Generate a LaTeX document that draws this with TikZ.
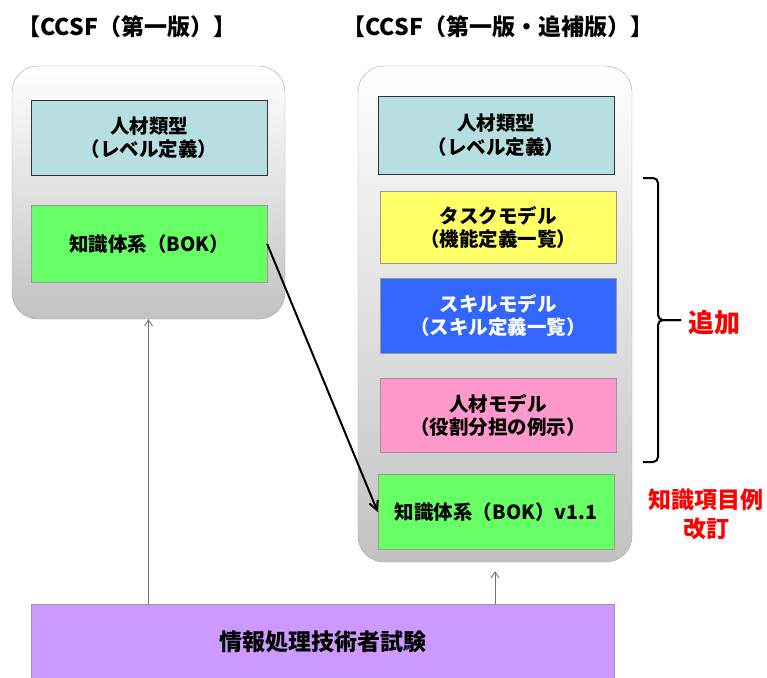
\documentclass[tikz,border=0pt]{standalone}
\usepackage{fontspec}
\setmainfont{Noto Sans CJK JP}
\usepackage{xcolor}
\usetikzlibrary{positioning,arrows.meta}

\definecolor{typecyan}{RGB}{183,222,224}
\definecolor{bokgreen}{RGB}{102,255,102}
\definecolor{taskyellow}{RGB}{255,255,102}
\definecolor{skillblue}{RGB}{51,102,255}
\definecolor{humanpink}{RGB}{255,153,204}
\definecolor{exampurple}{RGB}{204,153,255}

\begin{document}
\begin{tikzpicture}[x=1pt, y=-1pt, node distance=17pt, auto]

    % Define styles
    \tikzstyle{panel} = [rectangle, draw=gray!70, rounded corners=26pt, top color=white, bottom color=black!24, minimum width=273pt]
    \tikzstyle{layer} = [rectangle, draw=gray!80, minimum width=236pt, inner sep=0pt, align=center, font=\bfseries\fontsize{19.5}{23.5}\selectfont]
    \tikzstyle{title} = [anchor=west, font=\bfseries\fontsize{23}{27}\selectfont]
    \tikzstyle{note} = [text=red, align=center, font=\bfseries\fontsize{23}{29}\selectfont]
    \tikzstyle{flow} = [line width=2pt, -{Straight Barb[length=9pt,width=9pt]}]
    \tikzstyle{feed} = [draw=black!55, line width=0.9pt, -{Straight Barb[length=6pt,width=8pt]}]
    \tikzstyle{brace} = [line width=2pt, rounded corners=5pt]

    \useasboundingbox (0,0) rectangle (767,677);

    % Titles
    \node [title] (left_title) at (14,27) {【CCSF（第一版）】};
    \node [title] (right_title) at (339,27) {【CCSF（第一版・追補版）】};

    % Panels
    \node [panel, minimum height=253pt] (left_panel) at (148.5,192.5) {};
    \node [panel, minimum height=496pt, minimum width=274pt] (right_panel) at (495,314) {};

    % First edition
    \node [layer, fill=typecyan, draw=black!80, minimum height=75pt] (left_type) at (149,137.5) {人材類型\\（レベル定義）};
    \node [layer, fill=bokgreen, minimum height=77pt, below=30pt of left_type] (left_bok) {知識体系（BOK）};

    % Supplement edition
    \node [layer, fill=typecyan, draw=black!80, minimum height=78pt] (r_type) at (496,135) {人材類型\\（レベル定義）};
    \node [layer, fill=taskyellow, minimum height=72pt, below=of r_type, xshift=2pt] (r_task) {タスクモデル\\（機能定義一覧）};
    \node [layer, fill=skillblue, text=white, minimum height=75pt, below=14pt of r_task] (r_skill) {スキルモデル\\（スキル定義一覧）};
    \node [layer, fill=humanpink, minimum height=74pt, below=25pt of r_skill] (r_human) {人材モデル\\（役割分担の例示）};
    \node [layer, fill=bokgreen, minimum height=75pt, below=22pt of r_human, xshift=-2pt] (r_bok) {知識体系（BOK）v1.1};

    % Exam
    \node [layer, fill=exampurple, minimum width=583pt, minimum height=76pt, font=\bfseries\fontsize{23}{27}\selectfont] (exam) at (322.5,642) {情報処理技術者試験};

    % Brace and notes
    \coordinate (brace_top) at (643,178);
    \coordinate (brace_bot) at (643,462);
    \coordinate (brace_tip) at (681,320);
    \draw [brace] (brace_top) -- (658,178) -- (658,320) -- (brace_tip);
    \draw [brace] (brace_bot) -- (658,462) -- (658,320) -- (brace_tip);
    \node [note, font=\bfseries\fontsize{26}{30}\selectfont] (added) at (714,323) {追加};
    \node [note] (revised) at (706,514) {知識項目例\\改訂};

    % Flows
    \draw [flow] (left_bok.east) -- (r_bok.west);
    \draw [feed] (exam.north -| left_panel.south) -- (left_panel.south);
    \draw [feed, shorten >=9pt] (exam.north -| right_panel.south) -- (right_panel.south);

\end{tikzpicture}
\end{document}
